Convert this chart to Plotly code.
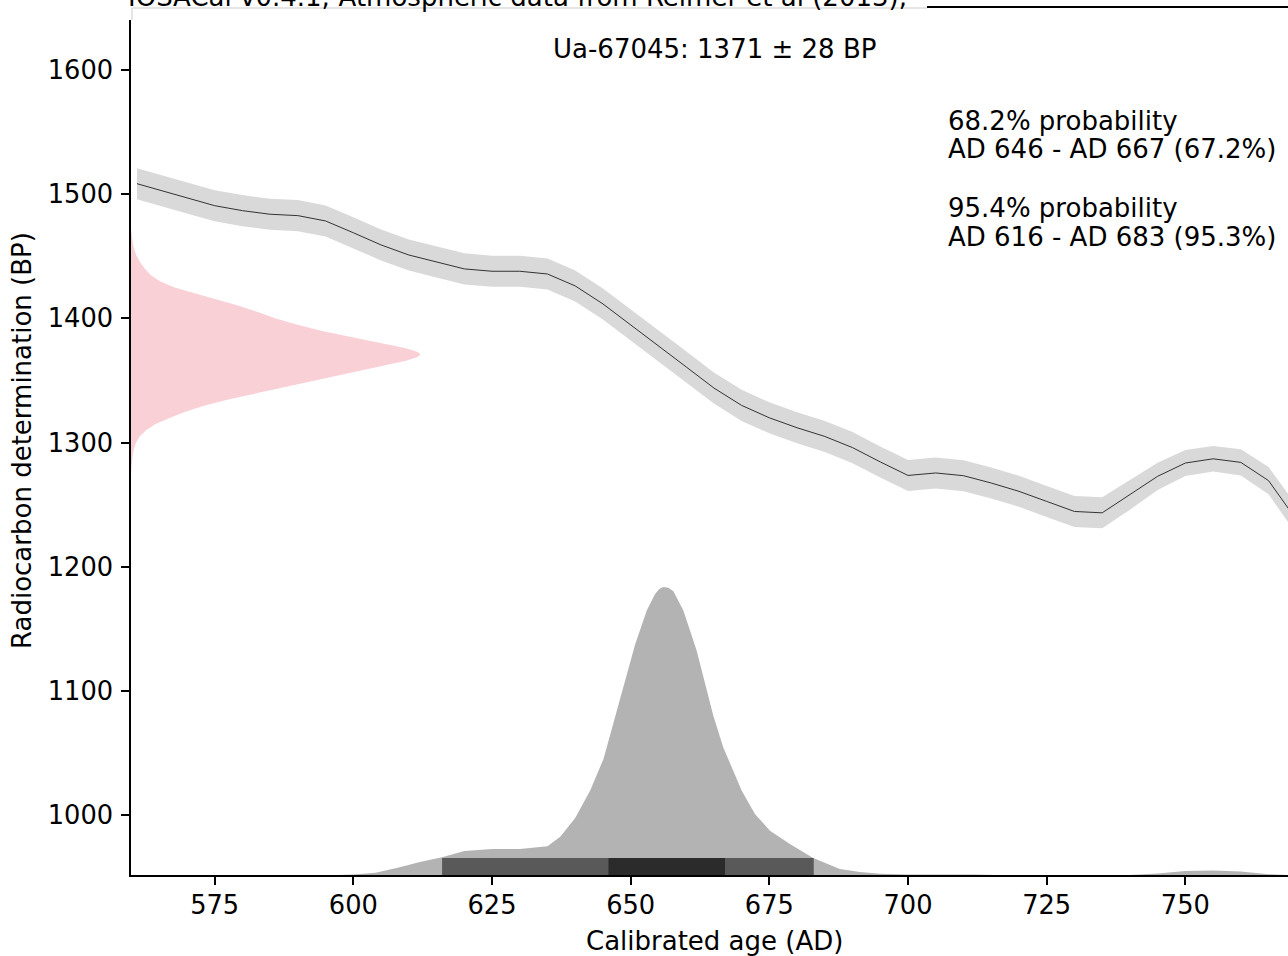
import plotly.graph_objects as go

# ---------------- data ----------------
# calibration curve (IntCal13, AD years vs BP)
curve_years = [561, 565, 570, 575, 580, 585, 590, 595, 600, 605, 610, 615, 620, 625, 630, 635,
               640, 645, 650, 655, 660, 665, 670, 675, 680, 685, 690, 695, 700, 705, 710, 715,
               720, 725, 730, 735, 740, 745, 750, 755, 760, 765, 770]
curve_bp = [1508.5, 1503.3, 1497.0, 1490.8, 1486.8, 1483.9, 1482.8, 1478.5, 1469.0, 1459.2, 1451.1,
            1445.5, 1439.9, 1438.0, 1438.0, 1435.8, 1426.2, 1411.7, 1395.0, 1378.0, 1361.0, 1344.0,
            1330.0, 1320.0, 1312.0, 1305.0, 1296.0, 1284.5, 1273.6, 1275.6, 1273.4, 1267.5, 1260.8,
            1252.7, 1244.6, 1243.5, 1258.0, 1272.9, 1283.6, 1287.0, 1284.1, 1269.4, 1238.0]
curve_err = [12.5, 12.5, 12.5, 12.5, 12.5, 12.5, 12.5, 12.5, 12.5, 12.5, 12.5, 12.5, 12.5, 12.5,
             12.5, 12.5, 12.5, 12.5, 12.5, 12.5, 12.5, 12.5, 12.5, 12.5, 12.5, 12.5, 12.5, 12.5,
             12.5, 12.5, 12.5, 12.5, 12.5, 12.5, 12.5, 12.5, 12.0, 11.0, 10.5, 10.3, 10.5, 11.0, 11.5]

# radiocarbon determination (relative probability vs BP)
date_bp = [1472, 1468, 1464, 1460, 1455, 1450, 1445, 1440, 1435, 1430, 1425, 1420, 1415, 1410,
           1405, 1400, 1395, 1390, 1385, 1380, 1376, 1373, 1371, 1369, 1366, 1362, 1356, 1350,
           1345, 1340, 1335, 1330, 1325, 1320, 1315, 1310, 1305, 1300, 1295, 1290, 1285, 1278, 1272]
date_prob = [0.0, 0.002, 0.004, 0.007, 0.012, 0.02, 0.032, 0.048, 0.068, 0.10, 0.15, 0.225, 0.30,
             0.375, 0.44, 0.50, 0.575, 0.66, 0.76, 0.87, 0.95, 0.99, 1.0, 0.99, 0.95, 0.87, 0.75,
             0.63, 0.53, 0.43, 0.34, 0.255, 0.19, 0.135, 0.085, 0.052, 0.03, 0.017, 0.01, 0.006,
             0.003, 0.001, 0.0]

# calibrated distribution (relative probability vs AD)
cal_years = [597, 600, 604, 608, 612, 616, 620, 625, 630, 635, 637.3, 640, 642.7, 645.1, 647.5,
             650.8, 652.9, 654.4, 655.2, 655.9, 656.8, 657.7, 659.5, 661.9, 664.9, 666.7, 670,
             672.4, 675.1, 678.7, 682.9, 687.7, 691.3, 695, 700, 705, 712, 716, 740, 745, 750,
             755, 760, 765, 768.5]
cal_prob = [0.0, 0.002, 0.008, 0.025, 0.045, 0.062, 0.083, 0.09, 0.09, 0.10, 0.133, 0.198, 0.293,
            0.403, 0.57, 0.80, 0.918, 0.976, 0.994, 1.0, 0.997, 0.985, 0.918, 0.779, 0.553, 0.443,
            0.293, 0.212, 0.154, 0.108, 0.059, 0.021, 0.010, 0.004, 0.002, 0.003, 0.002, 0.0,
            0.0, 0.005, 0.014, 0.016, 0.012, 0.003, 0.0]

# highest density intervals
hpd_95 = [616, 683]
hpd_68 = [646, 667]

title_text = "IOSACal v0.4.1; Atmospheric data from Reimer et al (2013);"
date_label = "Ua-67045: 1371 ± 28 BP"
range_lines = ["68.2% probability", "AD 646 - AD 667 (67.2%)", "95.4% probability",
               "AD 616 - AD 683 (95.3%)"]
x_ticks = [575, 600, 625, 650, 675, 700, 725, 750]
y_ticks = [1000, 1100, 1200, 1300, 1400, 1500, 1600]

# ---------------- layout constants ----------------
W, H = 1288, 956
L, R, T, B = 131, 0, 20, 81
X_RANGE = [559.92, 768.5]
Y_RANGE = [951.9, 1640.3]
FONT = "DejaVu Sans"
FS = 26
DATE_SCALE = 52.2     # years for peak of determination
CAL_SCALE = 231.9     # BP units for peak of calibrated distribution
BAR_H = 13.7          # BP units for HPD bar height

pw, ph = W - L - R, H - T - B


def xp(px):
    return (px - L) / pw


def yp(py):
    return (H - B - py) / ph


fig = go.Figure()

# calibration curve band
upper = [b + e for b, e in zip(curve_bp, curve_err)]
lower = [b - e for b, e in zip(curve_bp, curve_err)]
fig.add_trace(go.Scatter(x=curve_years + curve_years[::-1], y=upper + lower[::-1],
                         fill="toself", fillcolor="#d9d9d9", line=dict(width=0),
                         mode="lines", hoverinfo="skip", showlegend=False))
fig.add_trace(go.Scatter(x=curve_years, y=curve_bp, mode="lines",
                         line=dict(color="#333333", width=1), showlegend=False))

# radiocarbon determination
x0 = X_RANGE[0]
fig.add_trace(go.Scatter(x=[x0 + p * DATE_SCALE for p in date_prob] + [x0, x0],
                         y=date_bp + [date_bp[-1], date_bp[0]],
                         fill="toself", fillcolor="rgb(250,208,215)", line=dict(width=0),
                         mode="lines", hoverinfo="skip", showlegend=False))

# calibrated distribution
y0 = Y_RANGE[0]
fig.add_trace(go.Scatter(x=cal_years + [cal_years[-1], cal_years[0]],
                         y=[y0 + p * CAL_SCALE for p in cal_prob] + [y0, y0],
                         fill="toself", fillcolor="#b3b3b3", line=dict(width=0),
                         mode="lines", hoverinfo="skip", showlegend=False))

# HPD bars
for rng, col in [(hpd_95, "#595959"), (hpd_68, "#2b2b2b")]:
    fig.add_trace(go.Scatter(x=[rng[0], rng[1], rng[1], rng[0], rng[0]],
                             y=[y0, y0, y0 + BAR_H, y0 + BAR_H, y0],
                             fill="toself", fillcolor=col, line=dict(width=0),
                             mode="lines", hoverinfo="skip", showlegend=False))

axis_common = dict(showline=True, linecolor="black", linewidth=1.5, ticks="outside",
                   ticklen=8, tickwidth=1.5, tickcolor="black", showgrid=False,
                   zeroline=False, mirror=False,
                   tickfont=dict(family=FONT, size=25.7, color="black"))

fig.update_layout(
    width=W, height=H, margin=dict(l=L, r=R, t=T, b=B, pad=0),
    paper_bgcolor="white", plot_bgcolor="white",
    xaxis=dict(range=X_RANGE, tickvals=x_ticks, ticklabelstandoff=-2, **axis_common),
    yaxis=dict(range=Y_RANGE, tickvals=y_ticks, ticklabelstandoff=3, **axis_common),
    font=dict(family=FONT, size=FS, color="black"),
    showlegend=False,
)

ann = []
ann.append(dict(text="Calibrated age (AD)", x=xp(714), y=yp(941), xref="paper", yref="paper",
                xanchor="center", yanchor="middle", showarrow=False))
ann.append(dict(text="Radiocarbon determination (BP)", x=xp(22), y=yp(441), xref="paper",
                yref="paper", xanchor="center", yanchor="middle", textangle=-90, showarrow=False))
ann.append(dict(text=date_label, x=xp(714), y=yp(48.8), xref="paper", yref="paper",
                xanchor="center", yanchor="middle", showarrow=False))
for txt, cy in zip(range_lines, [121.0, 149.0, 208.5, 236.5]):
    ann.append(dict(text=txt, x=xp(946), y=yp(cy), xref="paper", yref="paper",
                    xanchor="left", yanchor="middle", showarrow=False))
ann.append(dict(text=title_text, x=xp(126), y=yp(-2.5), xref="paper", yref="paper",
                xanchor="left", yanchor="middle", showarrow=False))
fig.update_layout(annotations=ann)

shapes = [
    dict(type="line", xref="paper", yref="paper", x0=xp(132), x1=xp(927), y0=yp(8), y1=yp(8),
         line=dict(color="#dddddd", width=1.5)),
    dict(type="line", xref="paper", yref="paper", x0=xp(132), x1=xp(132), y0=yp(8), y1=yp(20),
         line=dict(color="#dddddd", width=1.5)),
    dict(type="line", xref="paper", yref="paper", x0=xp(927), x1=xp(1290), y0=yp(7), y1=yp(7),
         line=dict(color="black", width=2)),
]
fig.update_layout(shapes=shapes)

fig.write_html("out.html")
